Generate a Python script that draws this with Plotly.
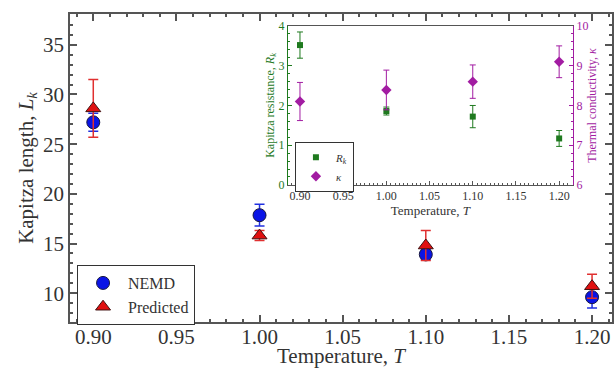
import plotly.graph_objects as go

# ---- data ----
T = [0.90, 1.00, 1.10, 1.20]
L_nemd = [27.2, 17.85, 13.9, 9.6]
L_nemd_err = [0.9, 1.1, 0.5, 1.1]
L_pred = [28.6, 15.8, 14.8, 10.7]
L_pred_err = [2.9, 0.5, 1.5, 1.2]
R_k = [3.52, 1.86, 1.72, 1.17]
R_k_err = [0.33, 0.10, 0.28, 0.20]
kappa = [8.10, 8.39, 8.60, 9.10]
kappa_err = [0.48, 0.50, 0.42, 0.40]
tick_T = [0.90, 0.95, 1.00, 1.05, 1.10, 1.15, 1.20]
tick_T_txt = ["0.90", "0.95", "1.00", "1.05", "1.10", "1.15", "1.20"]
tick_L = [10, 15, 20, 25, 30, 35]
tick_R = [0, 1, 2, 3, 4]
tick_K = [6, 7, 8, 9, 10]

FONT = "Liberation Serif, Times New Roman, serif"
AX = "#555555"
TXT = "#333333"
GREEN = "#1f7a1f"
MAG = "#a21ca2"

fig = go.Figure()

fig.add_trace(go.Scatter(
    x=T, y=L_nemd, mode="markers", name="NEMD",
    marker=dict(symbol="circle", size=13, color="#0a14e6", line=dict(color="#1a1a40", width=1)),
    error_y=dict(type="data", array=L_nemd_err, color="#2030e0", thickness=1.5, width=5),
    xaxis="x", yaxis="y", legend="legend"))
fig.add_trace(go.Scatter(
    x=T, y=L_pred, mode="markers", name="Predicted",
    marker=dict(symbol="triangle-up", size=13, color="#e01010", line=dict(color="#401010", width=1)),
    error_y=dict(type="data", array=L_pred_err, color="#e03030", thickness=1.5, width=5),
    xaxis="x", yaxis="y", legend="legend"))

fig.add_trace(go.Scatter(
    x=T, y=R_k, mode="markers", name="<i>R</i><sub><i>k</i></sub>",
    marker=dict(symbol="square", size=6, color=GREEN),
    error_y=dict(type="data", array=R_k_err, color=GREEN, thickness=1, width=3),
    xaxis="x2", yaxis="y2", legend="legend2"))
fig.add_trace(go.Scatter(
    x=T, y=kappa, mode="markers", name="<i>κ</i>",
    marker=dict(symbol="diamond", size=8, color=MAG),
    error_y=dict(type="data", array=kappa_err, color=MAG, thickness=1, width=3),
    xaxis="x2", yaxis="y3", legend="legend2"))

main_ax = dict(showline=True, linecolor=AX, linewidth=1.5, mirror="allticks",
               ticks="inside", ticklen=7, tickcolor=AX, tickwidth=1.5,
               showgrid=False, zeroline=False, automargin=False,
               tickfont=dict(family=FONT, size=21, color=TXT))

fig.update_layout(
    width=615, height=368,
    margin=dict(l=70, r=3, t=14, b=46),
    paper_bgcolor="white", plot_bgcolor="white",
    font=dict(family=FONT, color=TXT),
    showlegend=True,
    xaxis=dict(**main_ax, range=[0.886, 1.212], tickvals=tick_T, ticktext=tick_T_txt,
               ticklabelstandoff=-5,
               minor=dict(dtick=0.01, ticks="inside", ticklen=3, tickcolor=AX),
               title=dict(text="Temperature, <i>T</i>", font=dict(family=FONT, size=21, color=TXT), standoff=3),
               domain=[0, 1]),
    yaxis=dict(**main_ax, range=[7.1, 38.1], tickvals=tick_L,
               minor=dict(dtick=1, ticks="inside", ticklen=3, tickcolor=AX),
               title=dict(text="Kapitza length, <i>L</i><sub><i>k</i></sub>", font=dict(family=FONT, size=21, color=TXT), standoff=4),
               domain=[0, 1]),
    xaxis2=dict(domain=[0.402, 0.928], anchor="y2", range=[0.886, 1.216],
                tickvals=tick_T, ticktext=tick_T_txt,
                showline=True, linecolor=AX, linewidth=1, mirror=True,
                ticks="inside", ticklen=4, tickcolor=AX,
                minor=dict(dtick=0.005, ticks="inside", ticklen=2, tickcolor=AX),
                showgrid=False, zeroline=False,
                tickfont=dict(family=FONT, size=12, color=TXT),
                title=dict(text="Temperature, <i>T</i>", font=dict(family=FONT, size=13, color=TXT), standoff=2)),
    yaxis2=dict(domain=[0.445, 0.961], anchor="x2", range=[0, 4],
                tickmode="array", tickvals=tick_R, ticktext=[str(v) for v in tick_R],
                showline=True, linecolor=GREEN, linewidth=1,
                ticks="inside", ticklen=4, tickcolor=GREEN,
                minor=dict(dtick=0.2, ticks="inside", ticklen=2, tickcolor=GREEN),
                showgrid=False, zeroline=False,
                tickfont=dict(family=FONT, size=12, color=GREEN),
                title=dict(text="Kapitza resistance, <i>R</i><sub><i>k</i></sub>", font=dict(family=FONT, size=12, color=GREEN), standoff=0)),
    yaxis3=dict(overlaying="y2", side="right", anchor="x2", range=[6, 10],
                tickmode="array", tickvals=tick_K, ticktext=[str(v) for v in tick_K],
                showline=True, linecolor=MAG, linewidth=1,
                ticks="inside", ticklen=4, tickcolor=MAG,
                minor=dict(dtick=0.2, ticks="inside", ticklen=2, tickcolor=MAG),
                showgrid=False, zeroline=False,
                tickfont=dict(family=FONT, size=12, color=MAG),
                title=dict(text="Thermal conductivity, <i>κ</i>", font=dict(family=FONT, size=12, color=MAG), standoff=0)),
    legend=dict(x=0.013, y=0.185, xanchor="left", yanchor="top", itemwidth=40,
                bordercolor=TXT, borderwidth=1, bgcolor="white",
                font=dict(family=FONT, size=16, color=TXT), tracegroupgap=0),
    legend2=dict(x=0.415, y=0.585, xanchor="left", yanchor="top",
                 bordercolor=TXT, borderwidth=1, bgcolor="white",
                 font=dict(family=FONT, size=11, color=TXT), tracegroupgap=0),
)

fig.write_html("out.html")
